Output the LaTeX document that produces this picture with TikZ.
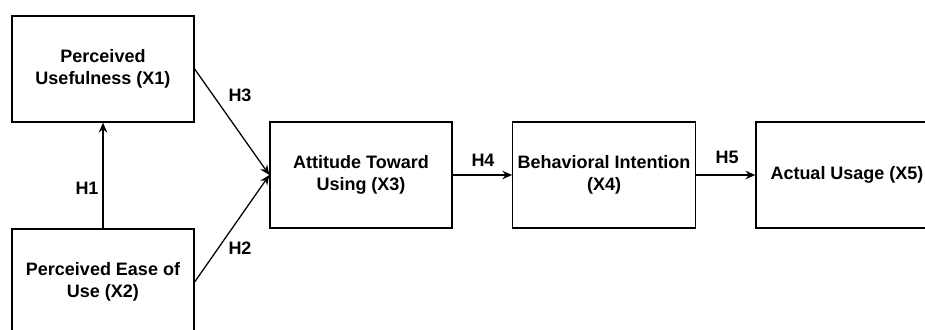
\documentclass[tikz,border=0pt]{standalone}
\usepackage{fontspec}
\setmainfont{Liberation Sans}
\usetikzlibrary{arrows.meta}

\begin{document}
\begin{tikzpicture}[>={Stealth[length=7pt,width=6pt]}, line width=0.9pt,
		every node/.style={font=\bfseries\fontsize{12.8}{15.6}\selectfont, align=center},
		var/.style={rectangle, draw, minimum width=4.55cm, minimum height=2.65cm}]
		\useasboundingbox (0, 0) rectangle (23.125, -8.225);

		\draw 
		(2.575, -1.725) node [var] (PU) {Perceived\\Usefulness (X1)}
		(2.575, -7.05) node [var] (PEU) {Perceived Ease of\\Use (X2)}
		(9.025, -4.375) node [var] (ATU) {Attitude Toward\\Using (X3)}
		(15.1, -4.375) node [var] (BI) {Behavioral Intention\\(X4)}
		(21.175, -4.375) node [var] (AU) {Actual Usage (X5)};

		\draw[->] (PEU) -- (PU);
		\draw[->] (PU.east) -- (ATU.west);
		\draw[->] (PEU.east) -- (ATU.west);
		\draw[->] (ATU) -- (BI);
		\draw[->] (BI) -- (AU);

		\draw 
		(2.175, -4.7) node (H1) {H1}
		(6.0, -2.375) node (H3) {H3}
		(6.0, -6.2) node (H2) {H2}
		(12.075, -4.0) node (H4) {H4}
		(18.175, -3.925) node (H5) {H5};
	\end{tikzpicture}
\end{document}
